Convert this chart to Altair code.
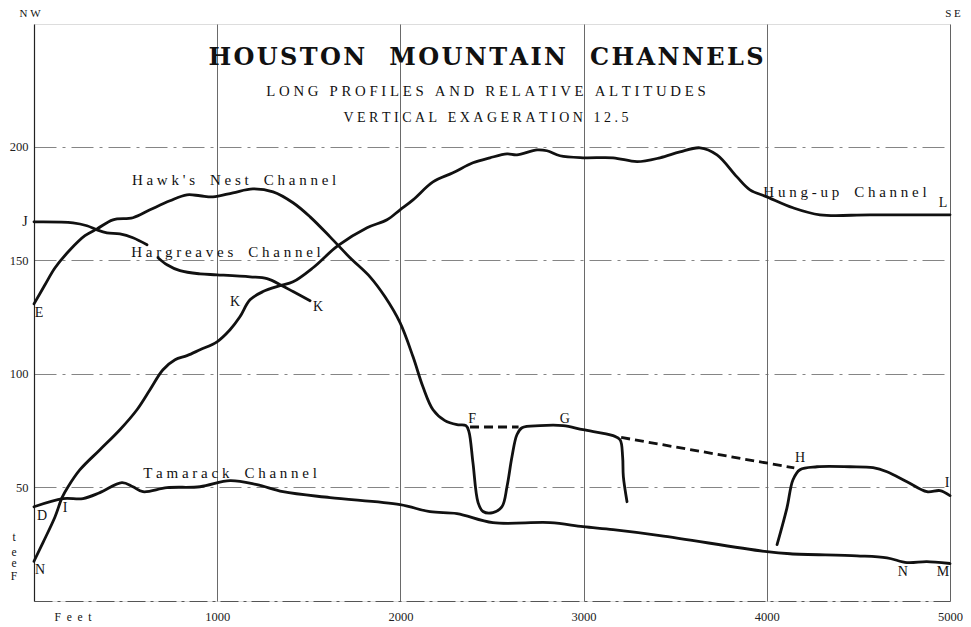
import altair as alt
import pandas as pd

# ---------------- data (feet along profile, relative altitude in feet) ----------------
HAWK_X = [0, 60, 115, 197, 278, 344, 431, 540, 633, 742, 835, 906, 977, 1086, 1195, 1305, 1414,
          1507, 1616, 1725, 1834, 1916, 1998, 2069, 2123, 2178, 2243, 2309, 2358, 2374, 2396, 2424,
          2451, 2505, 2555, 2582, 2609, 2636, 2664, 2762, 2888, 2997, 3161, 3199, 3213, 3217, 3237]
HAWK_Y = [130.8, 139.2, 146.7, 154.6, 160.8, 163.8, 167.8, 168.7, 172.2, 176.2, 178.8, 178.4, 177.9,
          179.7, 181.4, 180.1, 175.3, 169.1, 160.3, 151.1, 142.7, 133.9, 122.5, 107.5, 94.3, 84.2,
          79.4, 77.6, 77.2, 74.6, 60.9, 43.3, 39.4, 38.9, 41.6, 50.4, 63.5, 73.2, 76.3, 77.2, 77.2,
          75.4, 72.8, 71.0, 63.5, 54.7, 43.7]

FG_DASH_X = [2380, 2645]
FG_DASH_Y = [76.6, 76.6]
GH_DASH_X = [3205, 4150]
GH_DASH_Y = [72.0, 58.6]

HI_X = [4056, 4110, 4143, 4181, 4274, 4454, 4580, 4656, 4765, 4874, 4945, 5000]
HI_Y = [24.8, 41.0, 53.4, 57.8, 59.1, 59.1, 58.7, 56.9, 52.5, 48.1, 48.6, 46.4]

HUNG_X = [0, 49, 115, 153, 186, 251, 360, 469, 562, 633, 704, 770, 835, 906, 999, 1070, 1124, 1179,
          1250, 1343, 1414, 1523, 1659, 1818, 1927, 1998, 2069, 2178, 2287, 2396, 2489, 2582, 2636,
          2746, 2800, 2871, 2997, 3161, 3292, 3417, 3526, 3635, 3728, 3837, 3908, 4001, 4143, 4290,
          4563, 5000]
HUNG_Y = [17.5, 25.7, 37.1, 45.5, 50.3, 57.8, 66.6, 75.4, 84.2, 93.0, 101.8, 106.2, 108.0, 110.6,
          114.1, 119.4, 125.1, 132.6, 136.2, 138.8, 140.5, 146.7, 156.4, 164.3, 167.8, 172.2, 176.6,
          184.5, 188.5, 192.9, 195.1, 196.8, 196.4, 198.6, 198.2, 196.0, 195.1, 195.1, 193.4, 195.1,
          197.7, 199.5, 196.4, 186.7, 181.0, 177.9, 173.1, 170.0, 170.0, 170.0]

HARG1_X = [0, 213, 289, 344, 398, 469, 540, 617]
HARG1_Y = [166.9, 166.5, 165.2, 163.4, 162.1, 161.6, 159.9, 156.8]
HARG2_X = [677, 726, 797, 906, 999, 1179, 1272, 1354, 1414, 1507]
HARG2_Y = [151.1, 148.0, 145.4, 144.0, 143.6, 142.7, 141.9, 138.8, 136.2, 132.2]

TAM_X = [0, 158, 267, 360, 480, 540, 595, 726, 906, 1070, 1217, 1359, 1616, 1998, 2162, 2309, 2505,
         2817, 2997, 3161, 3417, 4001, 4127, 4492, 4656, 4765, 4874, 5000]
TAM_Y = [41.5, 45.1, 45.1, 47.7, 52.1, 50.3, 48.1, 49.9, 50.3, 53.0, 51.2, 48.1, 45.5, 42.4, 39.3,
         38.5, 34.5, 34.5, 32.7, 31.4, 28.8, 21.7, 20.8, 19.9, 19.0, 16.9, 17.3, 16.5]

X_TICKS = [1000, 2000, 3000, 4000, 5000]
Y_TICKS = [50, 100, 150, 200]

# point letters
LETTERS = ["J", "E", "K", "K", "F", "G", "H", "I", "L", "D", "I", "N", "N", "M"]
LETTER_X = [-49, 27, 1097, 1550, 2391, 2898, 4181, 4984, 4962, 44, 169, 33, 4743, 4962]
LETTER_Y = [167.0, 126.9, 131.8, 129.6, 79.9, 79.9, 63.1, 52.1, 175.3, 37.6, 41.1, 13.8, 12.6, 12.6]

# channel names
CHANNELS = ["Hawk's Nest Channel", "Hargreaves Channel", "Hung-up Channel", "Tamarack Channel"]
CHANNEL_X = [1092, 1048, 4427, 1070]
CHANNEL_Y = [185.4, 153.7, 180.1, 56.5]

TITLE = "HOUSTON MOUNTAIN CHANNELS"
SUB1 = "LONG PROFILES AND RELATIVE ALTITUDES"
SUB2 = "VERTICAL EXAGERATION 12.5"

NB = "\u00a0"


def spaced(s, gap=NB, word=NB * 3):
    return word.join(gap.join(list(w)) for w in s.split(" "))


# ---------------- tables ----------------
rows = []
def add(name, xs, ys, dashed):
    for i, (x, y) in enumerate(zip(xs, ys)):
        rows.append(dict(seg=name, x=x, y=y, i=i, dashed=dashed))

add("hawk", HAWK_X, HAWK_Y, False)
add("hi", HI_X, HI_Y, False)
add("hung", HUNG_X, HUNG_Y, False)
add("harg1", HARG1_X, HARG1_Y, False)
add("harg2", HARG2_X, HARG2_Y, False)
add("tam", TAM_X, TAM_Y, False)
add("fg", FG_DASH_X, FG_DASH_Y, True)
add("gh", GH_DASH_X, GH_DASH_Y, True)
df = pd.DataFrame(rows)

letters = pd.DataFrame(dict(x=LETTER_X, y=LETTER_Y, t=LETTERS))
chan = pd.DataFrame(dict(x=CHANNEL_X, y=CHANNEL_Y,
                         t=[spaced(c, NB, NB * 4) for c in CHANNELS]))

xmid = 2467
title_df = pd.DataFrame(dict(x=[xmid], y=[239.1],
                             t=[spaced(TITLE, "\u200a", "\u2003")]))
sub1_df = pd.DataFrame(dict(x=[xmid], y=[224.1], t=[spaced(SUB1, NB, NB * 3)]))
sub2_df = pd.DataFrame(dict(x=[xmid], y=[212.7], t=[spaced(SUB2, NB, NB * 3)]))
corner_df = pd.DataFrame(dict(x=[-22, 5016], y=[258.4, 258.4], t=["N" + NB + "W", "S" + NB + "E"]))
feet_df = pd.DataFrame(dict(x=[213, -109, -109, -109, -109],
                            y=[-7.4, 27.9, 21.3, 16.5, 10.7],
                            t=[spaced("Feet", NB + NB), "t", "e", "e", "F"]))

SERIF = "Liberation Serif"

xs = alt.Scale(domain=[0, 5000], nice=False, zero=False)
ys = alt.Scale(domain=[0, 254], nice=False, zero=False)

X = alt.X("x:Q", scale=xs,
          axis=alt.Axis(values=X_TICKS, title=None, grid=True, ticks=False,
                        domain=True, domainColor="#555", domainWidth=1, domainDash=[18, 5, 3, 5],
                        gridColor="#444", gridWidth=0.8,
                        labelFont=SERIF, labelFontSize=12.5, labelColor="#222", labelPadding=9,
                        format="d", labelFlush=False))
Y = alt.Y("y:Q", scale=ys,
          axis=alt.Axis(values=Y_TICKS, title=None, grid=True, ticks=False,
                        domain=True, domainColor="#222", domainWidth=1.2,
                        gridColor="#666", gridWidth=0.8, gridDash=[22, 6, 3, 6],
                        labelFont=SERIF, labelFontSize=12.5, labelColor="#222", labelPadding=6))

solid = alt.Chart(df[~df.dashed]).mark_line(
    color="#111", strokeWidth=2.8, interpolate="catmull-rom", strokeCap="round"
).encode(x=X, y=Y, detail="seg:N", order="i:Q")

dashed = alt.Chart(df[df.dashed]).mark_line(
    color="#111", strokeWidth=2.8, strokeDash=[9, 5]
).encode(x="x:Q", y="y:Q", detail="seg:N", order="i:Q")

def txt(data, size, weight="normal", font=SERIF):
    return alt.Chart(data).mark_text(
        font=font, fontSize=size, fontWeight=weight, color="#111",
        align="center", baseline="middle"
    ).encode(x="x:Q", y="y:Q", text="t:N")

chart = alt.layer(
    solid, dashed,
    txt(letters, 14),
    txt(chan, 15),
    txt(title_df, 24, "bold", "DejaVu Serif"),
    txt(sub1_df, 14.8),
    txt(sub2_df, 14),
    txt(corner_df, 11),
    txt(feet_df, 11.5),
).properties(
    width=916, height=577,
    autosize=alt.AutoSizeParams(type="none"),
    padding={"left": 26, "top": 16, "right": 13, "bottom": 25},
).configure_view(stroke="#666", strokeWidth=1, strokeDash=[20, 4, 3, 4]
).configure(background="white")

chart.save("out.html", embed_options={"renderer": "svg", "actions": False})
